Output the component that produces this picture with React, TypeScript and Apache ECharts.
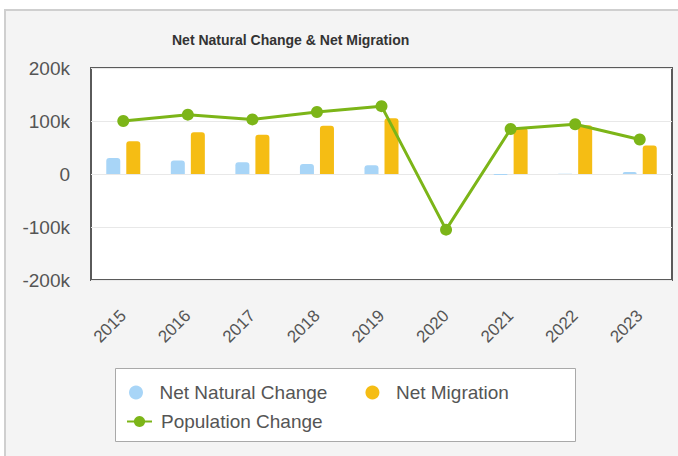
import React, { useEffect, useRef } from "react";
import * as echarts from "echarts";

const years = ["2015", "2016", "2017", "2018", "2019", "2020", "2021", "2022", "2023"];
const netNatural = [30000, 25500, 22000, 19000, 16500, null, -2000, 500, 4000];
const netMigration = [62000, 79000, 74000, 91000, 105000, null, 87000, 92000, 54000];
const populationChange = [100000, 112000, 103000, 117000, 128000, -105000, 85000, 94000, 65000];
const yTicks = { min: -200000, max: 200000, interval: 100000 };

const FONT = "'Liberation Sans', Arial, sans-serif";

export default function App() {
  const ref = useRef<HTMLDivElement>(null);
  useEffect(() => {
    if (!ref.current) return;
    const chart = echarts.init(ref.current, undefined, { renderer: "svg" });
    chart.setOption({
      animation: false,
      backgroundColor: "transparent",
      textStyle: { fontFamily: FONT },
      title: {
        text: "Net Natural Change & Net Migration",
        left: 167,
        top: 28,
        textStyle: { fontSize: 14, fontWeight: "bold", color: "#333", fontFamily: FONT },
      },
      graphic: [
        {
          type: "rect",
          z: 1,
          shape: { x: 115.5, y: 368.5, width: 460, height: 73 },
          style: { fill: "#ffffff", stroke: "#a9a9a9", lineWidth: 1 },
        },
      ],
      legend: [
        {
          z: 10,
          left: 129,
          top: 383,
          padding: 0,
          itemWidth: 25,
          itemHeight: 14,
          itemGap: 38,
          textStyle: { fontSize: 19, color: "#555", fontFamily: FONT, padding: [0, 0, 0, 6] },
          data: [
            { name: "Net Natural Change", icon: "circle" },
            { name: "Net Migration", icon: "circle" },
          ],
        },
        {
          z: 10,
          left: 126,
          top: 412,
          padding: 0,
          itemWidth: 25,
          itemHeight: 14,
          textStyle: { fontSize: 19, color: "#555", fontFamily: FONT, padding: [0, 0, 0, 4] },
          data: [{ name: "Population Change" }],
        },
      ],
      grid: {
        left: 91,
        top: 68,
        width: 581,
        height: 212,
        show: true,
        backgroundColor: "#ffffff",
        borderColor: "#5a5a5a",
        borderWidth: 2,
      },
      xAxis: {
        type: "category",
        data: years,
        axisLine: { show: false },
        axisTick: { show: false },
        axisLabel: { rotate: 45, fontSize: 17, color: "#555", margin: 33, fontFamily: FONT },
      },
      yAxis: {
        type: "value",
        min: yTicks.min,
        max: yTicks.max,
        interval: yTicks.interval,
        axisLine: { show: false },
        axisTick: { show: false },
        splitLine: { lineStyle: { color: "#e8e8e8", width: 1 } },
        axisLabel: {
          fontSize: 19,
          color: "#555",
          margin: 21,
          fontFamily: FONT,
          formatter: (v: number) => (v === 0 ? "0" : v / 1000 + "k"),
        },
      },
      series: [
        {
          name: "Net Natural Change",
          type: "bar",
          data: netNatural,
          barWidth: 14,
          barGap: "43%",
          itemStyle: { color: "#a8d5f7", borderRadius: [3, 3, 0, 0] },
        },
        {
          name: "Net Migration",
          type: "bar",
          data: netMigration,
          barWidth: 14,
          barGap: "43%",
          itemStyle: { color: "#f5bd14", borderRadius: [3, 3, 0, 0] },
        },
        {
          name: "Population Change",
          type: "line",
          data: populationChange,
          symbol: "circle",
          symbolSize: 12,
          lineStyle: { color: "#7cb518", width: 3 },
          itemStyle: { color: "#7cb518" },
          z: 5,
        },
      ],
    });
    return () => chart.dispose();
  }, []);

  return (
    <div style={{ position: "fixed", left: 0, top: 0, width: 678, height: 456, background: "#ffffff", overflow: "hidden" }}>
      <div
        style={{
          position: "absolute",
          left: 4,
          top: 9,
          width: 700,
          height: 480,
          background: "#f4f4f4",
          borderLeft: "2px solid #cfcfcf",
          borderTop: "2px solid #cfcfcf",
          boxSizing: "border-box",
        }}
      />
      <div ref={ref} style={{ position: "absolute", left: 0, top: 0, width: 678, height: 456 }} />
    </div>
  );
}
